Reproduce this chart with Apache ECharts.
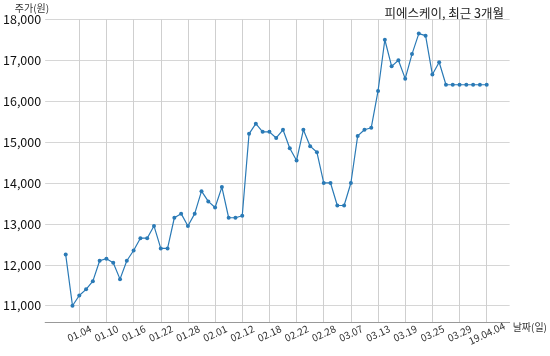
<!DOCTYPE html>
<html>
<head>
<meta charset="utf-8">
<script src="https://cdn.jsdelivr.net/npm/echarts@6/dist/echarts.min.js"></script>
<style>
html,body{margin:0;padding:0;background:#fff;}
#chart{width:550px;height:356px;}
</style>
</head>
<body>
<div id="chart"></div>
<script>
// trading days (2019), the last label carries the year
var dates = ['01.02','01.03','01.04','01.07','01.08','01.09','01.10','01.11','01.14','01.15',
  '01.16','01.17','01.18','01.21','01.22','01.23','01.24','01.25','01.28','01.29',
  '01.30','01.31','02.01','02.07','02.08','02.11','02.12','02.13','02.14','02.15',
  '02.18','02.19','02.20','02.21','02.22','02.25','02.26','02.27','02.28','03.04',
  '03.05','03.06','03.07','03.08','03.11','03.12','03.13','03.14','03.15','03.18',
  '03.19','03.20','03.21','03.22','03.25','03.26','03.27','03.28','03.29','04.01',
  '04.02','04.03','19.04.04'];
var prices = [12250,11000,11250,11400,11600,12100,12150,12050,11650,12100,
  12350,12650,12650,12950,12400,12400,13150,13250,12950,13250,
  13800,13550,13400,13900,13150,13150,13200,15200,15450,15250,
  15250,15100,15300,14850,14550,15300,14900,14750,14000,14000,
  13450,13450,14000,15150,15300,15350,16250,17500,16850,17000,
  16550,17150,17650,17600,16650,16950,16400,16400,16400,16400,
  16400,16400,16400];
var yTickMin = 11000, yTickMax = 18000, yStep = 1000;
var yPlotMin = 10595;
var title = '피에스케이, 최근 3개월';
var yName = '주가(원)';
var xName = '날짜(일)';

var FONT = "'Noto Sans CJK KR', 'Noto Sans', sans-serif";
var chart = echarts.init(document.getElementById('chart'), null, {renderer: 'canvas'});
function onLabel(i) { return (i - 2) % 4 === 0; }
chart.setOption({
  animation: false,
  backgroundColor: '#fff',
  title: {
    text: title, right: 41, top: 2,
    textStyle: {fontFamily: FONT, fontSize: 12.5, fontWeight: 'normal', color: '#222'}
  },
  grid: [
    {left: 43, right: 40, top: 19.3, bottom: 50.3},
    {left: 65.7, right: 63.3, top: 19.3, bottom: 33.7}
  ],
  xAxis: [
    {
      type: 'value', gridIndex: 0, min: 0, max: 1, offset: 16.6,
      name: xName, nameLocation: 'end', nameGap: 3,
      nameTextStyle: {fontFamily: FONT, fontSize: 10, color: '#333', verticalAlign: 'top'},
      axisLine: {show: true, lineStyle: {color: '#999', width: 1}},
      axisTick: {show: false}, axisLabel: {show: false}, splitLine: {show: false}
    },
    {
      type: 'category', gridIndex: 1, data: dates, boundaryGap: false,
      axisLine: {show: false},
      axisTick: {show: false},
      axisLabel: {
        interval: onLabel, rotate: 25, align: 'center', verticalAlign: 'middle', margin: 11,
        fontFamily: FONT, fontSize: 10, color: '#333'
      },
      splitLine: {show: true, interval: onLabel, lineStyle: {color: '#cfcfcf', width: 1}}
    }
  ],
  yAxis: [
    {
      type: 'value', gridIndex: 0, min: yTickMin, max: yTickMax, interval: yStep,
      name: yName, nameLocation: 'end', nameGap: 4,
      nameTextStyle: {fontFamily: FONT, fontSize: 10, color: '#333', align: 'right', padding: [0, -4, 0, 0]},
      axisLine: {show: false}, axisTick: {show: false},
      axisLabel: {
        margin: 4, fontFamily: FONT, fontSize: 12.5, color: '#111',
        formatter: function (v) { return v.toLocaleString('en-US'); }
      },
      splitLine: {show: true, lineStyle: {color: '#d6d6d6', width: 1}}
    },
    {
      type: 'value', gridIndex: 1, min: yPlotMin, max: yTickMax,
      show: false, splitLine: {show: false}
    }
  ],
  series: [{
    type: 'line', xAxisIndex: 1, yAxisIndex: 1, data: prices,
    symbol: 'circle', symbolSize: 4, showAllSymbol: true,
    lineStyle: {color: '#2a7ab6', width: 1.2},
    itemStyle: {color: '#2a7ab6'}
  }]
});
</script>
</body>
</html>
